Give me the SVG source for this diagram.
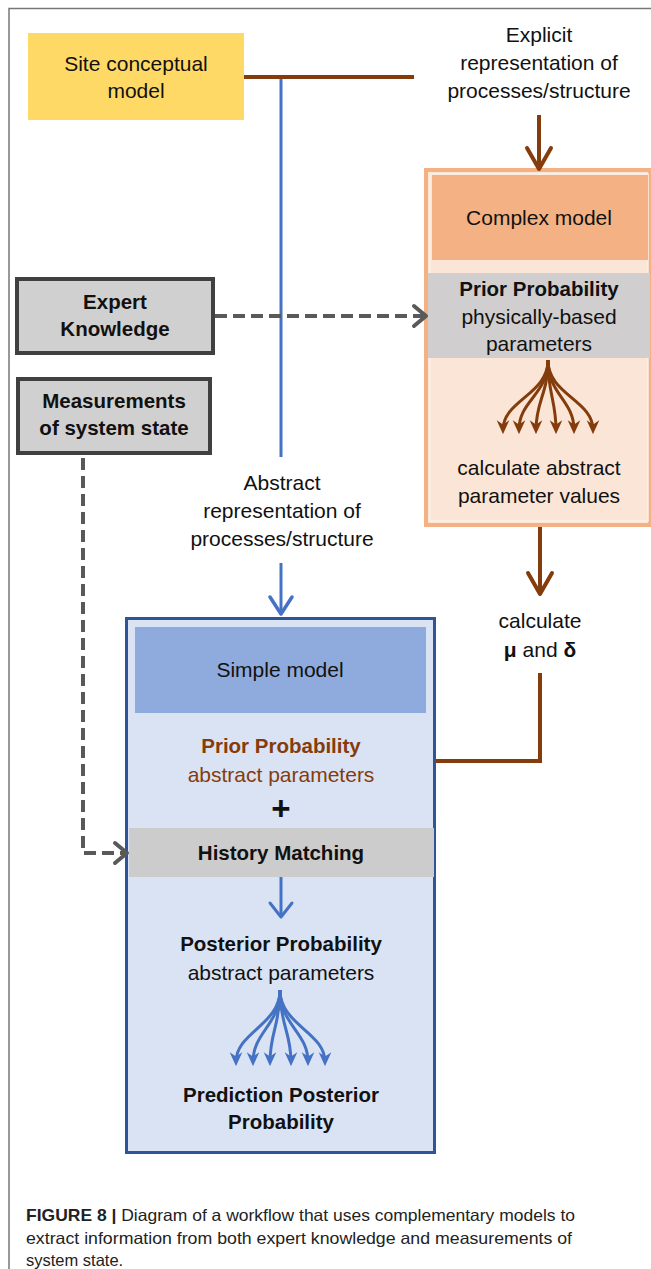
<svg xmlns="http://www.w3.org/2000/svg" width="651" height="1269" viewBox="0 0 651 1269">
<style>
text{font-family:"Liberation Sans",Arial,sans-serif;fill:#111}
.t{font-size:21px;text-anchor:middle}
.b{font-size:20.5px;font-weight:bold;text-anchor:middle}
.br{fill:#843C0C}
.cap{font-size:16.5px;fill:#222}
.brown{stroke:#843C0C;stroke-width:4;fill:none}
.blue{stroke:#4472C4;stroke-width:3;fill:none}
.dash{stroke:#595959;stroke-width:4;fill:none;stroke-dasharray:12 6}
.head{stroke-width:4;fill:none;stroke-linecap:round;stroke-linejoin:round}
</style>
<defs>
<marker id="mb" viewBox="0 0 10 10" refX="7" refY="5" markerWidth="14" markerHeight="14" markerUnits="userSpaceOnUse" orient="auto">
<path d="M0,0.5 L10,5 L0,9.5 L3,5 z" fill="#843C0C"/>
</marker>
<marker id="ml" viewBox="0 0 10 10" refX="7" refY="5" markerWidth="14" markerHeight="14" markerUnits="userSpaceOnUse" orient="auto">
<path d="M0,0.5 L10,5 L0,9.5 L3,5 z" fill="#4472C4"/>
</marker>
</defs>
<rect width="651" height="1269" fill="#fff"/>
<path d="M9 1269 V8.5 H651" stroke="#777" stroke-width="1.5" fill="none"/>

<g id="site-model">
<rect x="28" y="33" width="216" height="87" fill="#FFD966"/>
<text class="t" x="136" y="71">Site conceptual</text>
<text class="t" x="136" y="98">model</text>
</g>

<g id="explicit-label">
<text class="t" x="539" y="42">Explicit</text>
<text class="t" x="539" y="70">representation of</text>
<text class="t" x="539" y="98">processes/structure</text>
</g>

<g id="complex-model">
<rect x="426" y="170" width="224" height="355" fill="#FBE5D6" stroke="#F4B183" stroke-width="4"/>
<rect x="430" y="174" width="218" height="347" fill="none" stroke="#FDF0E6" stroke-width="1.5"/>
<rect x="432" y="175" width="216" height="85" fill="#F4B183"/>
<text class="t" x="539" y="225">Complex model</text>
<rect x="428" y="273" width="222" height="85" fill="#D0CECE"/>
<text class="b" x="539" y="296">Prior Probability</text>
<text class="t" x="539" y="324">physically-based</text>
<text class="t" x="539" y="351">parameters</text>
<g id="brown-fan" class="brown" style="stroke-width:3">
<path d="M548 360 C548 395 503 400 503 430" marker-end="url(#mb)"/>
<path d="M548 360 C548 395 519 400 519 430" marker-end="url(#mb)"/>
<path d="M548 360 C548 395 536 400 536 430" marker-end="url(#mb)"/>
<path d="M548 360 C548 395 556 400 556 430" marker-end="url(#mb)"/>
<path d="M548 360 C548 395 574 400 574 430" marker-end="url(#mb)"/>
<path d="M548 360 C548 395 593 400 593 430" marker-end="url(#mb)"/>
</g>
<text class="t" x="539" y="475">calculate abstract</text>
<text class="t" x="539" y="503">parameter values</text>
</g>

<g id="expert-knowledge">
<rect x="17" y="279" width="196" height="74" fill="#D0D0D0" stroke="#404040" stroke-width="4"/>
<text class="b" x="115" y="309">Expert</text>
<text class="b" x="115" y="336">Knowledge</text>
</g>

<g id="measurements">
<rect x="18" y="379" width="192" height="74" fill="#D0D0D0" stroke="#404040" stroke-width="4"/>
<text class="b" x="114" y="408">Measurements</text>
<text class="b" x="114" y="435">of system state</text>
</g>

<g id="abstract-label">
<text class="t" x="282" y="490">Abstract</text>
<text class="t" x="282" y="518">representation of</text>
<text class="t" x="282" y="546">processes/structure</text>
</g>

<g id="calc-label">
<text class="t" x="540" y="628">calculate</text>
<text class="t" x="540" y="657"><tspan font-weight="bold">μ</tspan> and <tspan font-weight="bold">δ</tspan></text>
</g>

<g id="simple-model">
<rect x="126.5" y="618.5" width="308" height="534" fill="#DAE3F3" stroke="#2F5597" stroke-width="3"/>
<rect x="135" y="627" width="291" height="86" fill="#8FAADC"/>
<text class="t" x="280" y="677">Simple model</text>
<text class="b br" x="281" y="753">Prior Probability</text>
<text class="t br" x="281" y="782">abstract parameters</text>
<text class="b" x="281" y="820" style="font-size:33px">+</text>
<rect x="129" y="828" width="305" height="49" fill="#CCCCCC"/>
<text class="b" x="281" y="860">History Matching</text>
<path class="blue" d="M281 877 V917"/>
<path class="blue head" style="stroke-width:3" d="M270 903 L281 917 L292 903"/>
<text class="b" x="281" y="951">Posterior Probability</text>
<text class="t" x="281" y="980">abstract parameters</text>
<g id="blue-fan" class="blue">
<path d="M280 990 C280 1025 236 1032 236 1062" marker-end="url(#ml)"/>
<path d="M280 990 C280 1025 253 1032 253 1062" marker-end="url(#ml)"/>
<path d="M280 990 C280 1025 270 1032 270 1062" marker-end="url(#ml)"/>
<path d="M280 990 C280 1025 291 1032 291 1062" marker-end="url(#ml)"/>
<path d="M280 990 C280 1025 308 1032 308 1062" marker-end="url(#ml)"/>
<path d="M280 990 C280 1025 325 1032 325 1062" marker-end="url(#ml)"/>
</g>
<text class="b" x="281" y="1102">Prediction Posterior</text>
<text class="b" x="281" y="1129">Probability</text>
</g>

<g id="connectors">
<path class="brown" d="M244 77 H414"/>
<path class="blue" d="M281 79 V457"/>
<path class="brown" d="M539 115 V169"/>
<path class="brown head" style="stroke:#843C0C" d="M527 148 L539 169 L551 148"/>
<path class="dash" d="M215 316 H424"/>
<path class="head" style="stroke:#595959" d="M414 306 L426 316 L414 326"/>
<path class="dash" d="M83 458 V853 H125"/>
<path class="head" style="stroke:#595959" d="M115 843 L127 853 L115 863"/>
<path class="blue" d="M281 563 V614"/>
<path class="blue head" style="stroke-width:3.5" d="M270 597 L281 614 L292 597"/>
<path class="brown" d="M540 527 V593"/>
<path class="brown head" style="stroke:#843C0C" d="M528 573 L540 594 L552 573"/>
<path class="brown" d="M540 673 V761 H436"/>
</g>

<g id="caption">
<text class="cap" x="26" y="1221" textLength="549" lengthAdjust="spacingAndGlyphs"><tspan font-weight="bold">FIGURE 8 |</tspan> Diagram of a workflow that uses complementary models to</text>
<text class="cap" x="26" y="1244" textLength="546" lengthAdjust="spacingAndGlyphs">extract information from both expert knowledge and measurements of</text>
<text class="cap" x="26" y="1266">system state.</text>
</g>
</svg>
